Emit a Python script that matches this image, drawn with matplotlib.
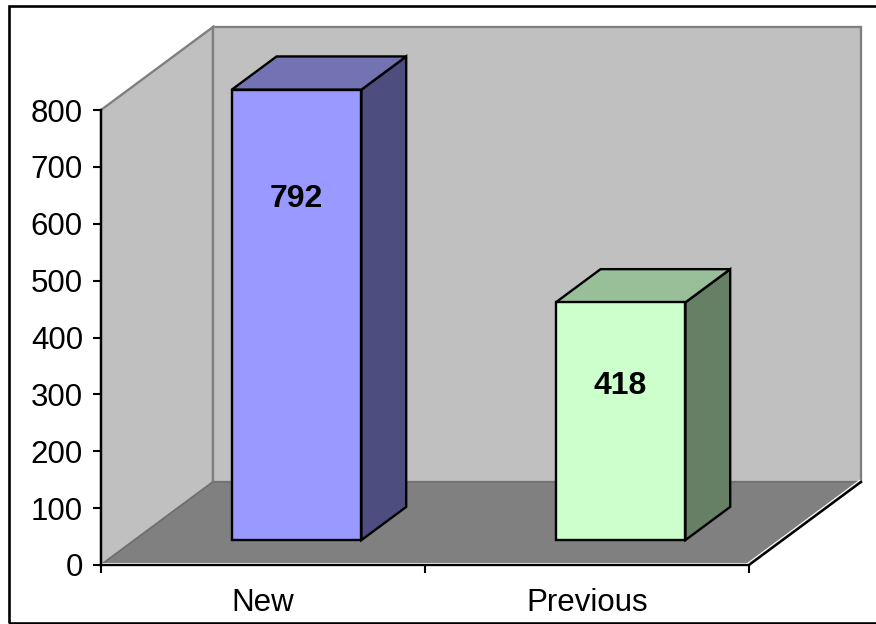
import matplotlib
matplotlib.use("Agg")
import matplotlib.pyplot as plt
from matplotlib.patches import Polygon, Rectangle

plt.rcParams["font.family"] = ["Liberation Sans", "DejaVu Sans"]

categories = ["New", "Previous"]
values = [792, 418]
y_ticks = [0, 100, 200, 300, 400, 500, 600, 700, 800]

bar_colors = ["#9999FF", "#CCFFCC"]
side_colors = ["#4D4D80", "#668066"]
top_colors = ["#7373B3", "#99BF99"]

W, H = 876, 624
LEFT, RIGHT, BOTTOM, TOP = 101, 749, 565, 110

# shift of the back wall for one full unit of depth, in data units
DX = 112 / 324
DY = 83 / 455 * 800
BAR_W = 0.4
BAR_D0, BAR_D1 = 0.30, 0.70
label_y = [643.5, 314.5]

fig = plt.figure(figsize=(W / 100, H / 100), dpi=100, facecolor="white")
ax = fig.add_axes([LEFT / W, 1 - BOTTOM / H, (RIGHT - LEFT) / W, (BOTTOM - TOP) / H])
ax.set_xlim(0, len(categories))
ax.set_ylim(0, 800)
ax.patch.set_visible(False)


def pt(x, y, d=0.0):
    # oblique projection of (category x, value y, depth d)
    return (x + d * DX, y + d * DY)


def face(points, color, edge, lw=1.7, z=1):
    ax.add_patch(Polygon(points, closed=True, facecolor=color, edgecolor=edge,
                         linewidth=lw, joinstyle="miter", clip_on=False, zorder=z))


xmax = len(categories)

# walls and floor
face([pt(0, 0), pt(0, 800), pt(0, 800, 1), pt(0, 0, 1)], "#C0C0C0", "#808080", 1.7, 1)
face([pt(0, 0, 1), pt(0, 800, 1), pt(xmax, 800, 1), pt(xmax, 0, 1)], "#C0C0C0", "#808080", 1.7, 1)
face([pt(0, 0), pt(0, 0, 1), pt(xmax, 0, 1), pt(xmax, 0)], "#808080", "#6E6E6E", 1.0, 2)

# front edges of the floor: black, with a thin white line just inside
x0, y0 = pt(xmax, 0)
x1, y1 = pt(xmax, 0, 1)
ax.plot([0, xmax], [3, 3], color="white", lw=0.8, clip_on=False, zorder=3)
ax.plot([x0 - 0.004, x1 - 0.004], [y0 + 3, y1 + 3], color="white", lw=0.8, clip_on=False, zorder=3)
ax.plot([x0, x1], [y0, y1], color="black", lw=1.7, clip_on=False, zorder=3)

# bars
for i, v in enumerate(values):
    x0 = i + 0.5 - BAR_W / 2
    x1 = i + 0.5 + BAR_W / 2
    face([pt(x1, 0, BAR_D0), pt(x1, 0, BAR_D1), pt(x1, v, BAR_D1), pt(x1, v, BAR_D0)],
         side_colors[i], "black", 1.7, 4)
    face([pt(x0, v, BAR_D0), pt(x1, v, BAR_D0), pt(x1, v, BAR_D1), pt(x0, v, BAR_D1)],
         top_colors[i], "black", 1.7, 4)
    face([pt(x0, 0, BAR_D0), pt(x1, 0, BAR_D0), pt(x1, v, BAR_D0), pt(x0, v, BAR_D0)],
         bar_colors[i], "black", 1.7, 5)
    lx, _ = pt(i + 0.5, 0, BAR_D0)
    ax.text(lx, label_y[i], str(v), ha="center", va="center", fontsize=23,
            fontweight="bold", color="black", zorder=6)

# axes
for side in ["top", "right"]:
    ax.spines[side].set_visible(False)
for side in ["left", "bottom"]:
    ax.spines[side].set_linewidth(1.7)
    ax.spines[side].set_color("black")
    ax.spines[side].set_zorder(7)
ax.set_yticks(y_ticks)
ax.set_yticklabels([str(t) for t in y_ticks], fontsize=22.5)
ax.set_xticks(range(xmax + 1))
ax.set_xticklabels([""] * (xmax + 1))
ax.tick_params(axis="both", length=5.5, width=1.5, color="black")
ax.tick_params(axis="y", pad=7.5)
for i, name in enumerate(categories):
    ax.annotate(name, xy=(i + 0.5, 0), xytext=(0, -27.5), textcoords="offset points",
                xycoords="data", ha="center", va="center", fontsize=22.5, annotation_clip=False)

# chart frame, open on the right
fig.add_artist(Rectangle((8.5 / W, 1 - 622.5 / H), 1.0, (622.5 - 5.5) / H,
                         transform=fig.transFigure, facecolor="none",
                         edgecolor="black", linewidth=1.9, zorder=10))

fig.savefig("out.png", dpi=100, facecolor="white")
